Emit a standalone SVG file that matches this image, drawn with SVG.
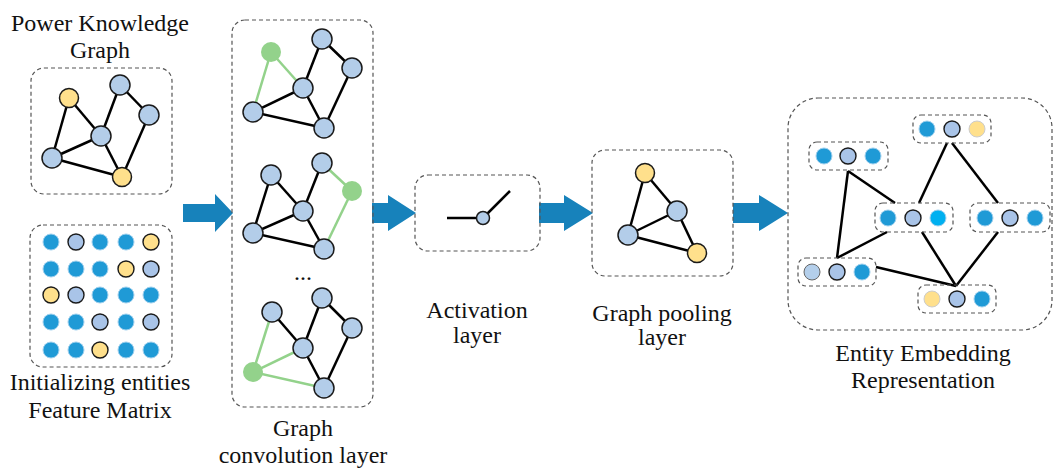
<svg xmlns="http://www.w3.org/2000/svg" width="1054" height="468" viewBox="0 0 1054 468">
<style>
.box{fill:none;stroke:#555;stroke-width:1.2;stroke-dasharray:4 3}
.e{stroke:#000;stroke-width:2.5;fill:none}
.g{stroke:#93d28b;stroke-width:2.5;fill:none}
.lb{fill:#b3cde9;stroke:#1a1a1a;stroke-width:1.5}
.yl{fill:#ffe08c;stroke:#1a1a1a;stroke-width:1.5}
.gn{fill:#93d28b}
.db{fill:#1f9ad6;stroke:#9fd0ee;stroke-width:1}
.ml{fill:#a9c4e8;stroke:#1a1a1a;stroke-width:1.4}
.my{fill:#ffe08c;stroke:#1a1a1a;stroke-width:1.4}
.ey{fill:#ffe08c;stroke:#ccc;stroke-width:1}
.cy{fill:#00b0f0;stroke:#9fd0ee;stroke-width:1}
.pl{fill:#b4cfeb;stroke:#666;stroke-width:1}
.arr{fill:#1782bb}
text{font-family:"Liberation Serif","Times New Roman",serif;font-size:24px;fill:#111;text-anchor:middle}
</style>

<g id="arrows">
<polygon class="arr" points="183,204 215,204 215,194 233,213 215,232 215,222 183,222"/>
<polygon class="arr" points="372,203 388,203 388,195 416,213 388,231 388,223 372,223"/>
<polygon class="arr" points="539,203 564,203 564,195 593,213 564,231 564,223 539,223"/>
<polygon class="arr" points="733,203 759,203 759,195 788,213 759,231 759,223 733,223"/>
</g>

<g id="power-knowledge-graph">
<text x="100" y="31">Power Knowledge</text>
<text x="100" y="58">Graph</text>
<rect class="box" x="31" y="68" width="141" height="126" rx="13"/>
<g class="e">
<line x1="69" y1="98" x2="101" y2="136"/><line x1="69" y1="98" x2="52" y2="158"/>
<line x1="52" y1="158" x2="101" y2="136"/><line x1="52" y1="158" x2="122" y2="177"/>
<line x1="101" y1="136" x2="120" y2="85"/><line x1="101" y1="136" x2="122" y2="177"/>
<line x1="120" y1="85" x2="149" y2="115"/><line x1="149" y1="115" x2="122" y2="177"/>
</g>
<circle class="yl" cx="69" cy="98" r="9.5"/>
<circle class="lb" cx="120" cy="85" r="10"/>
<circle class="lb" cx="149" cy="115" r="10"/>
<circle class="lb" cx="101" cy="136" r="10"/>
<circle class="lb" cx="52" cy="158" r="10"/>
<circle class="yl" cx="122" cy="177" r="9.5"/>
</g>

<g id="feature-matrix">
<rect class="box" x="30" y="225" width="142" height="142" rx="13"/>
<circle class="db" cx="51" cy="242" r="8"/><circle class="ml" cx="76" cy="242" r="8"/><circle class="db" cx="100" cy="242" r="8"/><circle class="db" cx="126" cy="242" r="8"/><circle class="my" cx="151" cy="242" r="8"/>
<circle class="db" cx="51" cy="269" r="8"/><circle class="db" cx="76" cy="269" r="8"/><circle class="db" cx="100" cy="269" r="8"/><circle class="my" cx="126" cy="269" r="8"/><circle class="ml" cx="151" cy="269" r="8"/>
<circle class="my" cx="51" cy="295" r="8"/><circle class="ml" cx="76" cy="295" r="8"/><circle class="db" cx="100" cy="295" r="8"/><circle class="db" cx="126" cy="295" r="8"/><circle class="db" cx="151" cy="295" r="8"/>
<circle class="db" cx="51" cy="322" r="8"/><circle class="db" cx="76" cy="322" r="8"/><circle class="ml" cx="100" cy="322" r="8"/><circle class="db" cx="126" cy="322" r="8"/><circle class="ml" cx="151" cy="322" r="8"/>
<circle class="db" cx="51" cy="350" r="8"/><circle class="db" cx="76" cy="350" r="8"/><circle class="my" cx="100" cy="350" r="8"/><circle class="db" cx="126" cy="350" r="8"/><circle class="db" cx="151" cy="350" r="8"/>
<text x="100" y="390">Initializing entities</text>
<text x="100" y="418">Feature Matrix</text>
</g>

<g id="graph-convolution-layer">
<rect class="box" x="232" y="20" width="141" height="387" rx="13"/>
<line class="g" x1="271" y1="52" x2="253" y2="112"/><line class="g" x1="271" y1="52" x2="303" y2="88"/>
<g class="e">
<line x1="253" y1="112" x2="303" y2="88"/><line x1="253" y1="112" x2="324" y2="128"/>
<line x1="303" y1="88" x2="322" y2="39"/><line x1="303" y1="88" x2="324" y2="128"/>
<line x1="322" y1="39" x2="352" y2="68"/><line x1="352" y1="68" x2="324" y2="128"/>
</g>
<circle class="gn" cx="271" cy="52" r="10"/>
<circle class="lb" cx="322" cy="39" r="10"/><circle class="lb" cx="352" cy="68" r="10"/>
<circle class="lb" cx="303" cy="88" r="10"/><circle class="lb" cx="253" cy="112" r="10"/>
<circle class="lb" cx="324" cy="128" r="10"/>
<line class="g" x1="322" y1="163" x2="352" y2="191"/><line class="g" x1="352" y1="191" x2="324" y2="249"/>
<g class="e">
<line x1="271" y1="175" x2="253" y2="233"/><line x1="271" y1="175" x2="303" y2="211"/>
<line x1="253" y1="233" x2="303" y2="211"/><line x1="253" y1="233" x2="324" y2="249"/>
<line x1="303" y1="211" x2="322" y2="163"/><line x1="303" y1="211" x2="324" y2="249"/>
</g>
<circle class="lb" cx="271" cy="175" r="10"/><circle class="lb" cx="322" cy="163" r="10"/>
<circle class="gn" cx="352" cy="191" r="10"/>
<circle class="lb" cx="303" cy="211" r="10"/><circle class="lb" cx="253" cy="233" r="10"/>
<circle class="lb" cx="324" cy="249" r="10"/>
<text x="303" y="280">...</text>
<line class="g" x1="272" y1="312" x2="253" y2="372"/><line class="g" x1="253" y1="372" x2="303" y2="348"/><line class="g" x1="253" y1="372" x2="324" y2="388"/>
<g class="e">
<line x1="272" y1="312" x2="303" y2="348"/>
<line x1="303" y1="348" x2="322" y2="298"/><line x1="303" y1="348" x2="324" y2="388"/>
<line x1="322" y1="298" x2="352" y2="328"/><line x1="352" y1="328" x2="324" y2="388"/>
</g>
<circle class="lb" cx="272" cy="312" r="10"/><circle class="lb" cx="322" cy="298" r="10"/>
<circle class="lb" cx="352" cy="328" r="10"/><circle class="lb" cx="303" cy="348" r="10"/>
<circle class="gn" cx="253" cy="372" r="10"/><circle class="lb" cx="324" cy="388" r="10"/>
<text x="303" y="436">Graph</text>
<text x="303" y="463">convolution layer</text>
</g>

<g id="activation-layer">
<rect class="box" x="415" y="175" width="125" height="76" rx="13"/>
<line class="e" x1="447" y1="218" x2="483" y2="218"/>
<line class="e" x1="483" y1="218" x2="510" y2="191"/>
<circle class="lb" cx="483" cy="218" r="6.5"/>
<text x="477" y="318">Activation</text>
<text x="477" y="343">layer</text>
</g>

<g id="graph-pooling-layer">
<rect class="box" x="592" y="150" width="141" height="126" rx="13"/>
<g class="e">
<line x1="645" y1="173" x2="628" y2="235"/><line x1="645" y1="173" x2="677" y2="211"/>
<line x1="628" y1="235" x2="677" y2="211"/><line x1="628" y1="235" x2="697" y2="253"/>
<line x1="677" y1="211" x2="697" y2="253"/>
</g>
<circle class="yl" cx="645" cy="173" r="9.5"/>
<circle class="lb" cx="677" cy="211" r="10"/>
<circle class="lb" cx="628" cy="235" r="10"/>
<circle class="yl" cx="697" cy="253" r="9.5"/>
<text x="662" y="321">Graph pooling</text>
<text x="662" y="345">layer</text>
</g>

<g id="entity-embedding">
<rect class="box" x="788" y="98" width="264" height="232" rx="30"/>
<g class="e">
<line x1="848" y1="171" x2="837" y2="258"/>
<line x1="848" y1="171" x2="895" y2="203"/>
<line x1="837" y1="258" x2="887" y2="232"/>
<line x1="876" y1="267" x2="956" y2="286"/>
<line x1="919" y1="203" x2="947" y2="143"/>
<line x1="952" y1="143" x2="998" y2="203"/>
<line x1="922" y1="232" x2="956" y2="286"/>
<line x1="998" y1="232" x2="956" y2="286"/>
</g>
<rect class="box" x="809" y="142" width="79" height="28" rx="8"/>
<circle class="db" cx="824" cy="156" r="8"/><circle class="ml" cx="848" cy="156" r="8"/><circle class="db" cx="873" cy="156" r="8"/>
<rect class="box" x="913" y="115" width="78" height="28" rx="8"/>
<circle class="db" cx="927" cy="129" r="8"/><circle class="ml" cx="952" cy="129" r="8"/><circle class="ey" cx="977" cy="129" r="8"/>
<rect class="box" x="875" y="203" width="78" height="29" rx="8"/>
<circle class="db" cx="888" cy="218" r="8"/><circle class="ml" cx="913" cy="218" r="8"/><circle class="cy" cx="938" cy="218" r="8"/>
<rect class="box" x="970" y="203" width="80" height="29" rx="8"/>
<circle class="db" cx="985" cy="218" r="8"/><circle class="ml" cx="1010" cy="218" r="8"/><circle class="db" cx="1035" cy="218" r="8"/>
<rect class="box" x="798" y="258" width="78" height="28" rx="8"/>
<circle class="pl" cx="812" cy="272" r="8"/><circle class="ml" cx="837" cy="272" r="8"/><circle class="db" cx="862" cy="272" r="8"/>
<rect class="box" x="918" y="285" width="78" height="28" rx="8"/>
<circle class="ey" cx="932" cy="299" r="8"/><circle class="ml" cx="957" cy="299" r="8"/><circle class="db" cx="982" cy="299" r="8"/>
<text x="923" y="361">Entity Embedding</text>
<text x="923" y="388">Representation</text>
</g>
</svg>
